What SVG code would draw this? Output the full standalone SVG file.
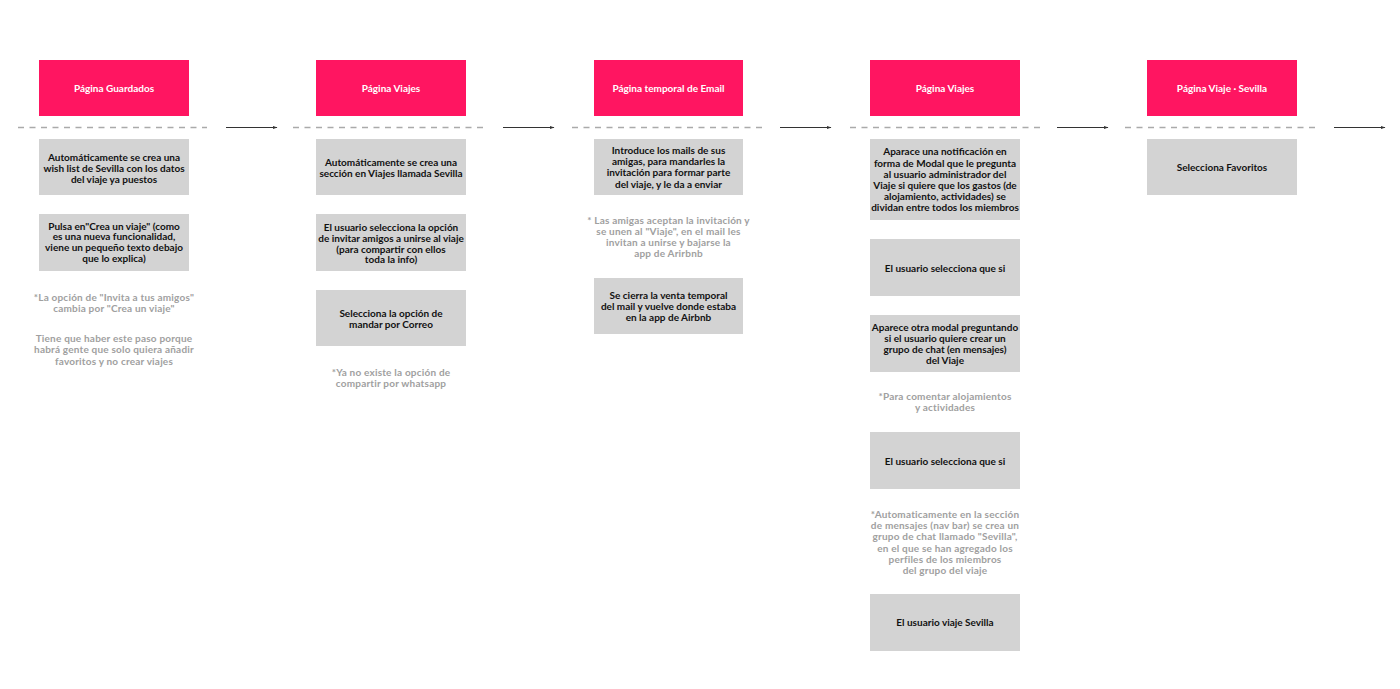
<svg xmlns="http://www.w3.org/2000/svg" width="1400" height="689" viewBox="0 0 1400 689">
<style>
.page{fill:#ff1561}
.step{fill:#d3d3d3}
.ph{font-family:Lato,"Liberation Sans",sans-serif;font-size:10px;font-weight:700;fill:#ffffff;text-anchor:middle}
.st{font-family:Lato,"Liberation Sans",sans-serif;font-size:10px;font-weight:700;fill:#111111;text-anchor:middle}
.nt{font-family:Lato,"Liberation Sans",sans-serif;font-size:10px;font-weight:700;fill:#a0a0a0;text-anchor:middle;letter-spacing:0.2px}
.dash{stroke:#aaaaaa;stroke-width:1.3;stroke-dasharray:6 5.5;fill:none}
.arr{stroke:#333333;stroke-width:1.2;fill:none;marker-end:url(#ah)}
</style>
<defs>
<marker id="ah" viewBox="0 0 10 10" refX="9" refY="5" markerWidth="5" markerHeight="5" orient="auto" markerUnits="userSpaceOnUse">
<path d="M0,1.5 L10,5 L0,8.5 Z" fill="#333333"/>
</marker>
</defs>
<rect width="1400" height="689" fill="#ffffff"/>
<g id="connectors">
<line class="dash" x1="18" y1="127.5" x2="207" y2="127.5"/>
<line class="dash" x1="293" y1="127.5" x2="485" y2="127.5"/>
<line class="dash" x1="572" y1="127.5" x2="762" y2="127.5"/>
<line class="dash" x1="850" y1="127.5" x2="1040" y2="127.5"/>
<line class="dash" x1="1125" y1="127.5" x2="1316" y2="127.5"/>
<line class="arr" x1="226" y1="127.5" x2="277" y2="127.5"/>
<line class="arr" x1="503" y1="127.5" x2="554" y2="127.5"/>
<line class="arr" x1="780" y1="127.5" x2="831" y2="127.5"/>
<line class="arr" x1="1057" y1="127.5" x2="1108" y2="127.5"/>
<line class="arr" x1="1334" y1="127.5" x2="1385" y2="127.5"/>
</g>

<!-- Column 1 -->
<g id="page1">
<rect class="page" x="39" y="60" width="150" height="56"/>
<text class="ph" x="114" y="91.5">Página Guardados</text>
</g>
<g id="c1s1">
<rect class="step" x="39" y="139" width="150" height="56"/>
<text class="st" x="114" y="161">Automáticamente se crea una</text>
<text class="st" x="114" y="172">wish list de Sevilla con los datos</text>
<text class="st" x="114" y="183">del viaje ya puestos</text>
</g>
<g id="c1s2">
<rect class="step" x="39" y="214" width="150" height="57"/>
<text class="st" x="114" y="229.5">Pulsa en"Crea un viaje" (como</text>
<text class="st" x="114" y="240.2">es una nueva funcionalidad,</text>
<text class="st" x="114" y="250.9">viene un pequeño texto debajo</text>
<text class="st" x="114" y="261.6">que lo explica)</text>
</g>
<g id="c1n1">
<text class="nt" x="114" y="300.5">*La opción de "Invita a tus amigos"</text>
<text class="nt" x="114" y="311.5">cambia por "Crea un viaje"</text>
</g>
<g id="c1n2">
<text class="nt" x="114" y="341.5">Tiene que haber este paso porque</text>
<text class="nt" x="114" y="353">habrá gente que solo quiera añadir</text>
<text class="nt" x="114" y="364.5">favoritos y no crear viajes</text>
</g>

<!-- Column 2 -->
<g id="page2">
<rect class="page" x="316" y="60" width="150" height="56"/>
<text class="ph" x="391" y="91.5">Página Viajes</text>
</g>
<g id="c2s1">
<rect class="step" x="316" y="139" width="150" height="56"/>
<text class="st" x="391" y="165.5">Automáticamente se crea una</text>
<text class="st" x="391" y="176.5">sección en Viajes llamada Sevilla</text>
</g>
<g id="c2s2">
<rect class="step" x="316" y="214" width="150" height="57"/>
<text class="st" x="391" y="230.5">El usuario selecciona la opción</text>
<text class="st" x="391" y="241.5">de invitar amigos a unirse al viaje</text>
<text class="st" x="391" y="252.5">(para compartir con ellos</text>
<text class="st" x="391" y="263.2">toda la info)</text>
</g>
<g id="c2s3">
<rect class="step" x="316" y="290" width="150" height="56"/>
<text class="st" x="391" y="317">Selecciona la opción de</text>
<text class="st" x="391" y="328">mandar por Correo</text>
</g>
<g id="c2n1">
<text class="nt" x="391" y="376">*Ya no existe la opción de</text>
<text class="nt" x="391" y="386.5">compartir por whatsapp</text>
</g>

<!-- Column 3 -->
<g id="page3">
<rect class="page" x="594" y="60" width="149" height="56"/>
<text class="ph" x="668.5" y="91.5">Página temporal de Email</text>
</g>
<g id="c3s1">
<rect class="step" x="594" y="139" width="149" height="56"/>
<text class="st" x="668.5" y="153.8">Introduce los mails de sus</text>
<text class="st" x="668.5" y="165.2">amigas, para mandarles la</text>
<text class="st" x="668.5" y="176.4">invitación para formar parte</text>
<text class="st" x="668.5" y="187.6">del viaje, y le da a enviar</text>
</g>
<g id="c3n1">
<text class="nt" x="668.5" y="223.5">* Las amigas aceptan la invitación y</text>
<text class="nt" x="668.5" y="235">se unen al "Viaje", en el mail les</text>
<text class="nt" x="668.5" y="246.3">invitan a unirse y bajarse la</text>
<text class="nt" x="668.5" y="257">app de Arirbnb</text>
</g>
<g id="c3s2">
<rect class="step" x="594" y="278" width="149" height="56"/>
<text class="st" x="668.5" y="299.3">Se cierra la venta temporal</text>
<text class="st" x="668.5" y="310.3">del mail y vuelve donde estaba</text>
<text class="st" x="668.5" y="321.3">en la app de Airbnb</text>
</g>

<!-- Column 4 -->
<g id="page4">
<rect class="page" x="870" y="60" width="150" height="56"/>
<text class="ph" x="945" y="91.5">Página Viajes</text>
</g>
<g id="c4s1">
<rect class="step" x="870" y="139" width="150" height="81"/>
<text class="st" x="945" y="155.3">Aparace una notificación en</text>
<text class="st" x="945" y="166.5">forma de Modal que le pregunta</text>
<text class="st" x="945" y="177.7">al usuario administrador del</text>
<text class="st" x="945" y="188.9">Viaje si quiere que los gastos (de</text>
<text class="st" x="945" y="200.1">alojamiento, actividades) se</text>
<text class="st" x="945" y="211.3">dividan entre todos los miembros</text>
</g>
<g id="c4s2">
<rect class="step" x="870" y="239" width="150" height="57"/>
<text class="st" x="945" y="271.8">El usuario selecciona que si</text>
</g>
<g id="c4s3">
<rect class="step" x="870" y="315" width="150" height="57"/>
<text class="st" x="945" y="330.8">Aparece otra modal preguntando</text>
<text class="st" x="945" y="341.9">si el usuario quiere crear un</text>
<text class="st" x="945" y="353">grupo de chat (en mensajes)</text>
<text class="st" x="945" y="364.2">del Viaje</text>
</g>
<g id="c4n1">
<text class="nt" x="945" y="400.3">*Para comentar alojamientos</text>
<text class="nt" x="945" y="411.3">y actividades</text>
</g>
<g id="c4s4">
<rect class="step" x="870" y="432" width="150" height="57"/>
<text class="st" x="945" y="464.5">El usuario selecciona que si</text>
</g>
<g id="c4n2">
<text class="nt" x="945" y="517.8">*Automaticamente en la sección</text>
<text class="nt" x="945" y="529.1">de mensajes (nav bar) se crea un</text>
<text class="nt" x="945" y="540.3">grupo de chat llamado "Sevilla",</text>
<text class="nt" x="945" y="551.5">en el que se han agregado los</text>
<text class="nt" x="945" y="562.7">perfiles de los miembros</text>
<text class="nt" x="945" y="574">del grupo del viaje</text>
</g>
<g id="c4s5">
<rect class="step" x="870" y="594" width="150" height="57"/>
<text class="st" x="945" y="626.3">El usuario viaje Sevilla</text>
</g>

<!-- Column 5 -->
<g id="page5">
<rect class="page" x="1147" y="60" width="150" height="56"/>
<text class="ph" x="1222" y="91.5">Página Viaje · Sevilla</text>
</g>
<g id="c5s1">
<rect class="step" x="1147" y="139" width="150" height="56"/>
<text class="st" x="1222" y="170.8">Selecciona Favoritos</text>
</g>
</svg>
